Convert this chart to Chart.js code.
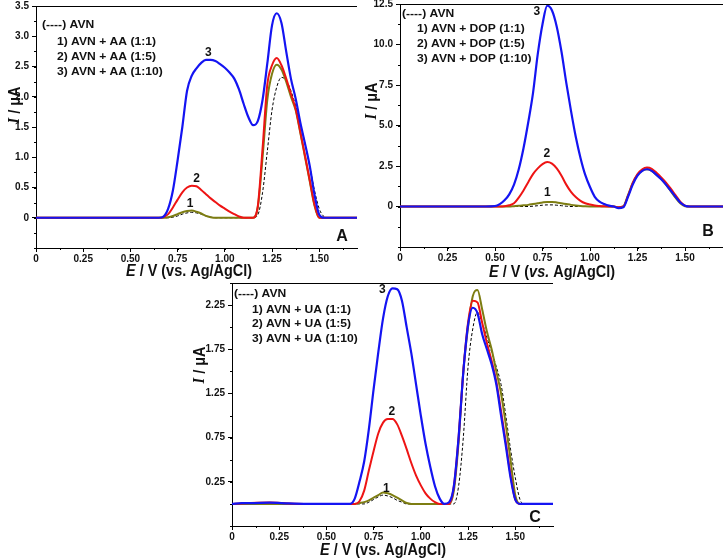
<!DOCTYPE html>
<html>
<head>
<meta charset="utf-8">
<script src="https://cdn.jsdelivr.net/npm/chart.js@4.4.1/dist/chart.umd.min.js"></script>
<style>
  html, body { margin: 0; padding: 0; background: #fff; }
  #wrap { position: relative; width: 723px; height: 559px; overflow: hidden; }
  canvas { position: absolute; }
</style>
</head>
<body>
<div id="wrap">
  <canvas id="panelA" width="362" height="282" style="left:0;top:0"></canvas>
  <canvas id="panelB" width="361" height="282" style="left:362px;top:0"></canvas>
  <canvas id="panelC" width="370" height="279" style="left:190px;top:280px"></canvas>
</div>
<script>
// potential grid (V vs. Ag/AgCl), shared by all three panels
const potential = [0, 0.05, 0.1, 0.2, 0.3, 0.4, 0.45,
  0.5, 0.525, 0.55, 0.575, 0.6, 0.625, 0.65, 0.675,
  0.7, 0.725, 0.75, 0.775, 0.8, 0.825, 0.85, 0.875,
  0.9, 0.925, 0.95, 0.975, 1.0, 1.025, 1.05, 1.075,
  1.1, 1.125, 1.15, 1.175, 1.2, 1.225, 1.25, 1.275,
  1.3, 1.325, 1.35, 1.375, 1.4, 1.425, 1.45, 1.475,
  1.5, 1.525, 1.55, 1.6, 1.7];

const xTicks = [0, 0.25, 0.5, 0.75, 1.0, 1.25, 1.5];
const yTicksA = [0, 0.5, 1.0, 1.5, 2.0, 2.5, 3.0, 3.5];
const yTicksB = [0, 2.5, 5.0, 7.5, 10.0, 12.5];
const yTicksC = [0.25, 0.75, 1.25, 1.75, 2.25];

// Panel A: AVN + AA
const avnA = [0,0,0,0,0,0,0, 0,0,0,0,0,0,0,0,
  0,0.01,0.03,0.06,0.08,0.09,0.08,0.06, 0.03,0.01,0,0,0,0,0,0,
  0,0,0,0.05,0.42,1.1,1.78,2.16, 2.32,2.27,2.1,1.85,1.55,1.22,0.85,0.45,
  0.15,0.02,0,0,0];
const aa1 = [0,0,0,0,0,0,0, 0,0,0,0,0,0,0,0,
  0.01,0.03,0.06,0.09,0.11,0.12,0.1,0.07, 0.03,0.01,0,0,0,0,0,0,
  0,0,0,0.18,1.0,1.95,2.38,2.53, 2.45,2.25,2.0,1.78,1.4,1.0,0.6,0.2,
  0,0,0,0,0];
const aa5 = [0,0,0,0,0,0,0, 0,0,0,0,0,0,0,0.01,
  0.06,0.17,0.3,0.42,0.5,0.53,0.52,0.46, 0.39,0.32,0.26,0.2,0.15,0.1,0.06,0.02,
  0,0,0,0.2,1.15,2.2,2.52,2.64, 2.52,2.3,2.05,1.8,1.42,1.02,0.62,0.22,
  0,0,0,0,0];
const aa10 = [0,0,0,0,0,0,0, 0,0,0,0,0,0,0,0.02,
  0.15,0.45,0.95,1.5,2.1,2.35,2.47,2.56, 2.61,2.61,2.59,2.54,2.48,2.4,2.3,2.12,
  1.88,1.66,1.53,1.6,1.95,2.55,3.18,3.38, 3.22,2.75,2.3,1.97,1.57,1.22,0.85,0.38,
  0.05,0,0,0,0];

// Panel B: AVN + DOP
const avnB = [0,0,0,0,0,0,0, 0,0,0,0,0,0,0,0,
  0.02,0.05,0.08,0.1,0.1,0.08,0.05,0.02, 0,0,0,0,0,0,0,0,
  0,0,-0.05,0,0.6,1.4,1.95,2.22, 2.32,2.22,1.98,1.72,1.38,1.0,0.6,0.22,
  0.03,0,0,0,0];
const dop1 = [0,0,0,0,0,0,0, 0,0,0,0,0.02,0.04,0.07,0.1,
  0.15,0.2,0.25,0.28,0.28,0.25,0.2,0.15, 0.1,0.06,0.03,0.01,0,0,0,0,
  0,0,-0.05,0,0.7,1.45,1.95,2.22, 2.3,2.2,1.95,1.7,1.35,0.95,0.55,0.2,
  0.02,0,0,0,0];
const dop5 = [0,0,0,0,0,0,0, 0,0,0.02,0.08,0.2,0.55,0.99,1.5,
  2.0,2.35,2.62,2.75,2.65,2.35,1.9,1.35, 0.9,0.58,0.35,0.2,0.12,0.06,0.03,0.01,
  0,0,-0.05,0,0.65,1.45,2.0,2.3, 2.4,2.32,2.08,1.8,1.48,1.1,0.7,0.3,
  0.05,0,0,0,0];
const dop10 = [0,0,0,0,0,0,0, 0.03,0.15,0.38,0.75,1.35,2.3,3.6,5.2,
  7.0,9.4,11.25,12.4,12.1,11.1,9.55,7.65, 5.9,4.3,3.0,1.95,1.2,0.6,0.3,0.15,
  0.05,0,-0.1,-0.05,0.6,1.35,1.9,2.2, 2.3,2.2,1.95,1.68,1.35,0.98,0.6,0.25,
  0.05,0,0,0,0];

// Panel C: AVN + UA
const avnC = [0,0,0,0,0,0,0, 0,0,0,0,0,0,0,0,
  0,0.02,0.05,0.08,0.1,0.09,0.07,0.04, 0.02,0,0,0,0,0,0,0,
  0,0,0,0,0.2,0.75,1.55,1.98, 2.17,2.05,1.88,1.72,1.55,1.35,1.0,0.62,
  0.3,0.05,0,0,0];
const ua1 = [0,0,0,0,0,0,0, 0,0,0,0,0,0,0,0.01,
  0.02,0.04,0.07,0.1,0.13,0.12,0.1,0.07, 0.04,0.01,0,0,0,0,0,0,
  0,0,0,0.15,0.7,1.5,2.0,2.35, 2.42,2.2,1.95,1.75,1.5,1.25,0.9,0.5,
  0.1,0,0,0,0];
const ua5 = [0,0.005,0.01,0.015,0.005,0,0, 0,0,0,0,0,0,0,0.03,
  0.15,0.38,0.6,0.8,0.92,0.96,0.96,0.9, 0.77,0.62,0.46,0.32,0.21,0.12,0.06,0.02,
  0,0,0,0.2,0.75,1.5,2.05,2.3, 2.28,2.05,1.82,1.62,1.38,1.05,0.7,0.33,
  0.05,0,0,0,0];
const ua10 = [0,0.01,0.01,0.015,0.005,0,0, 0,0,0,0,0,0,0.06,0.25,
  0.48,0.85,1.3,1.72,2.1,2.35,2.44,2.43, 2.3,2.0,1.7,1.35,1.0,0.68,0.42,0.2,
  0.06,0,0.02,0.2,0.75,1.49,2.02,2.22, 2.16,1.92,1.75,1.58,1.35,1.0,0.66,0.3,
  0.05,0,0,0,0];

const legendA = ['(----) AVN', '1) AVN + AA (1:1)', '2) AVN + AA (1:5)', '3) AVN + AA (1:10)'];
const legendB = ['(----) AVN', '1) AVN + DOP (1:1)', '2) AVN + DOP (1:5)', '3) AVN + DOP (1:10)'];
const legendC = ['(----) AVN', '1) AVN + UA (1:1)', '2) AVN + UA (1:5)', '3) AVN + UA (1:10)'];

const BLUE = '#1414f2', RED = '#ee1414', OLIVE = '#7d7d12', INK = '#111';
const TICK_FONT = { family: "'Liberation Sans Narrow', 'Liberation Sans', Arial, sans-serif", size: 10, weight: 'bold' };

function fontFor(p, size) {
  const fam = p.serif ? "'Liberation Serif', serif" : "'Liberation Sans', Arial, sans-serif";
  return (p.it ? 'italic ' : '') + 'bold ' + size + 'px ' + fam;
}

// text in mixed upright / italic parts, centred on (x, y)
function richText(ctx, parts, x, y, size, sx, vertical) {
  ctx.save();
  ctx.translate(x, y);
  if (vertical) ctx.rotate(-Math.PI / 2);
  ctx.scale(sx, 1);
  ctx.textBaseline = 'middle';
  ctx.textAlign = 'left';
  let total = 0;
  parts.forEach(p => { ctx.font = fontFor(p, size); total += ctx.measureText(p.t).width; });
  let cx = -total / 2;
  parts.forEach(p => {
    ctx.font = fontFor(p, size);
    ctx.fillText(p.t, cx, 0);
    cx += ctx.measureText(p.t).width;
  });
  ctx.restore();
}

const decorPlugin = {
  id: 'decor',
  afterDraw(chart, args, o) {
    const ctx = chart.ctx, a = chart.chartArea;
    const xs = chart.scales.x, ys = chart.scales.y;
    ctx.save();
    ctx.strokeStyle = '#000';
    ctx.lineWidth = 1;
    ctx.beginPath();
    ctx.moveTo(a.left, a.top + 0.5);
    ctx.lineTo(a.right, a.top + 0.5);
    // minor ticks
    for (let v = ys.min; v <= ys.max + 1e-9; v += o.yMinor) {
      const py = Math.round(ys.getPixelForValue(v)) + 0.5;
      ctx.moveTo(a.left - 2, py);
      ctx.lineTo(a.left, py);
    }
    for (let v = 0; v <= xs.max + 1e-9; v += 0.125) {
      const px = Math.round(xs.getPixelForValue(v)) + 0.5;
      ctx.moveTo(px, a.bottom);
      ctx.lineTo(px, a.bottom + 2);
    }
    ctx.stroke();

    ctx.fillStyle = INK;
    richText(ctx, o.xTitle, o.xTitlePos[0], o.xTitlePos[1], 17, 0.85, false);
    richText(ctx, [{ t: 'I', it: 1, serif: 1 }, { t: ' / μA' }], o.yTitlePos[0], o.yTitlePos[1], 17, 0.85, true);

    // legend block
    o.legend.forEach((line, i) => {
      ctx.save();
      ctx.translate(i === 0 ? o.legendX[0] : o.legendX[1], o.legendY[i]);
      ctx.scale(1.1, 1);
      ctx.font = "bold 11px 'Liberation Sans', Arial, sans-serif";
      ctx.textBaseline = 'middle';
      ctx.textAlign = 'left';
      ctx.fillText(line, 0, 0);
      ctx.restore();
    });

    // curve numbers
    ctx.font = "bold 12px 'Liberation Sans', Arial, sans-serif";
    ctx.textAlign = 'center';
    ctx.textBaseline = 'middle';
    o.tags.forEach(tg => {
      ctx.fillText(tg.t, xs.getPixelForValue(tg.x), ys.getPixelForValue(tg.y));
    });

    ctx.font = "bold 16px 'Liberation Sans', Arial, sans-serif";
    ctx.fillText(o.letter, o.letterPos[0], o.letterPos[1]);
    ctx.restore();
  }
};

function series(values) {
  return potential.map((e, i) => ({ x: e, y: values[i] }));
}

function makePanel(id, sets, yMin, yMax, yTicks, yFmt, pad, yWidth, xHeight, decor) {
  const styles = [
    { color: BLUE, width: 2.2, dash: [] },
    { color: RED, width: 2, dash: [] },
    { color: OLIVE, width: 2, dash: [] },
    { color: '#000', width: 1, dash: [3, 2] }
  ];
  return new Chart(document.getElementById(id), {
    type: 'line',
    data: {
      datasets: sets.map((vals, i) => ({
        data: series(vals),
        borderColor: styles[i].color,
        borderWidth: styles[i].width,
        borderDash: styles[i].dash,
        pointRadius: 0,
        fill: false,
        cubicInterpolationMode: 'monotone'
      }))
    },
    options: {
      responsive: false,
      animation: false,
      devicePixelRatio: 1,
      layout: { padding: pad },
      plugins: { legend: { display: false }, tooltip: { enabled: false }, decor: decor },
      scales: {
        x: {
          type: 'linear', min: 0, max: 1.7,
          afterBuildTicks: s => { s.ticks = xTicks.map(v => ({ value: v })); },
          afterFit: s => { s.height = xHeight; s.paddingLeft = 0; s.paddingRight = 0; },
          ticks: {
            color: INK, font: TICK_FONT, padding: 1, maxRotation: 0, autoSkip: false,
            callback: v => v === 0 ? '0' : v.toFixed(2)
          },
          grid: { drawOnChartArea: false, drawTicks: true, tickLength: 4, color: '#000' },
          border: { display: true, color: '#000', width: 1 }
        },
        y: {
          type: 'linear', min: yMin, max: yMax,
          afterBuildTicks: s => { s.ticks = yTicks.map(v => ({ value: v })); },
          afterFit: s => { s.width = yWidth; s.paddingTop = 0; s.paddingBottom = 0; },
          ticks: { color: INK, font: TICK_FONT, padding: 3, callback: yFmt },
          grid: { drawOnChartArea: false, drawTicks: true, tickLength: 4, color: '#000' },
          border: { display: true, color: '#000', width: 1 }
        }
      }
    },
    plugins: [decorPlugin]
  });
}

const oneDecimal = v => v === 0 ? '0' : v.toFixed(1);
const xTitlePlain = [{ t: 'E', it: 1 }, { t: ' / V (vs. Ag/AgCl)' }];
const xTitleItalicVs = [{ t: 'E', it: 1 }, { t: ' / V (' }, { t: 'vs.', it: 1 }, { t: ' Ag/AgCl)' }];

makePanel('panelA', [aa10, aa5, aa1, avnA], -0.5, 3.5, yTicksA, oneDecimal,
  { top: 6, right: 5, left: 0, bottom: 0 }, 36, 34, {
    xTitle: xTitlePlain, xTitlePos: [189, 271], yTitlePos: [15, 105],
    legend: legendA, legendX: [42, 57], legendY: [25, 41.5, 56.5, 71.5],
    tags: [{ t: '3', x: 0.913, y: 2.73 }, { t: '2', x: 0.851, y: 0.64 }, { t: '1', x: 0.816, y: 0.24 }],
    letter: 'A', letterPos: [342, 237], yMinor: 0.25
  });

makePanel('panelB', [dop10, dop5, dop1, avnB], -2.5, 12.5, yTicksB, oneDecimal,
  { top: 4, right: 0, left: 0, bottom: 0 }, 38, 35, {
    xTitle: xTitleItalicVs, xTitlePos: [190, 272], yTitlePos: [10, 101],
    legend: legendB, legendX: [40, 55], legendY: [13.5, 29.3, 43.8, 59],
    tags: [{ t: '3', x: 0.72, y: 12.0 }, { t: '2', x: 0.773, y: 3.24 }, { t: '1', x: 0.776, y: 0.85 }],
    letter: 'B', letterPos: [346, 232], yMinor: 1.25
  });

makePanel('panelC', [ua10, ua5, ua1, avnC], -0.25, 2.5, yTicksC, v => v.toFixed(2),
  { top: 3, right: 7, left: 0, bottom: 0 }, 42, 33, {
    xTitle: xTitlePlain, xTitlePos: [193, 270], yTitlePos: [10, 85],
    legend: legendC, legendX: [44, 62], legendY: [14, 30, 44.3, 59],
    tags: [{ t: '3', x: 0.796, y: 2.42 }, { t: '2', x: 0.846, y: 1.04 }, { t: '1', x: 0.817, y: 0.17 }],
    letter: 'C', letterPos: [345, 238], yMinor: 0.25
  });
</script>
</body>
</html>
